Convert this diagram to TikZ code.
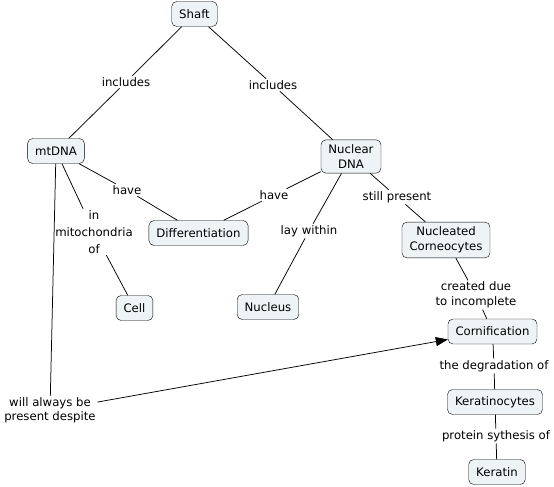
\documentclass[tikz,border=0pt]{standalone}
\usepackage{fontspec}
\setmainfont{DejaVu Sans}
\usetikzlibrary{arrows.meta}
\definecolor{boxfill}{HTML}{EEF4F6}
\tikzset{
  concept/.style={draw=black, fill=boxfill, rounded corners=5pt, align=center,
    inner xsep=7.5pt, inner ysep=5pt, minimum height=25pt, font=\fontsize{11.7}{14.5}\selectfont},
  linklabel/.style={align=center, inner sep=1.5pt, font=\fontsize{11.7}{14.5}\selectfont},
  conn/.style={draw=black, line width=0.75pt},
  arr/.style={conn, -{Triangle[length=12pt,width=9pt]}}
}
\begin{document}
\begin{tikzpicture}[x=1pt,y=-1pt]
\useasboundingbox (0,0) rectangle (554,487);
% concepts
\node[concept] (shaft) at (194.5,14) {Shaft};
\node[concept] (mtdna) at (56,151) {mtDNA};
\node[concept] (ndna) at (351,156.5) {Nuclear\\DNA};
\node[concept] (diff) at (198.5,233) {Differentiation};
\node[concept] (ncorn) at (446,240) {Nucleated\\Corneocytes};
\node[concept] (cell) at (134.5,308) {Cell};
\node[concept] (nucleus) at (268,307) {Nucleus};
\node[concept] (corn) at (492.5,331.5) {Cornification};
\node[concept] (kcytes) at (495,402) {Keratinocytes};
\node[concept] (keratin) at (497,472) {Keratin};
% link labels
\node[linklabel] (incl1) at (126,82) {includes};
\node[linklabel] (incl2) at (273,85) {includes};
\node[linklabel] (have1) at (127,190) {have};
\node[linklabel] (have2) at (274,195) {have};
\node[linklabel, font=\fontsize{11.7}{17}\selectfont] (inmito) at (94,232) {in\\mitochondria\\of};
\node[linklabel] (lay) at (309,231) {lay within};
\node[linklabel] (still) at (397,197) {still present};
\node[linklabel] (created) at (476,295) {created due\\to incomplete};
\node[linklabel] (degr) at (494,366) {the degradation of};
\node[linklabel] (prot) at (496,436) {protein sythesis of};
\node[linklabel] (will) at (50,410.5) {will always be\\present despite};
% connectors
\draw[conn] (shaft) -- (incl1) (incl1) -- (mtdna);
\draw[conn] (shaft) -- (incl2) (incl2) -- (ndna);
\draw[conn] (mtdna) -- (have1) (have1) -- (diff);
\draw[conn] (ndna) -- (have2) (have2) -- (diff);
\draw[conn] (mtdna) -- (inmito) (inmito) -- (cell);
\draw[conn] (ndna) -- (lay) (lay) -- (nucleus);
\draw[conn] (ndna) -- (still) (still) -- (ncorn);
\draw[conn] (ncorn) -- (created) (created) -- (corn);
\draw[conn] (mtdna) -- (will);
\draw[arr] (will) -- (corn);
\draw[conn] (corn) -- (degr) (degr) -- (kcytes);
\draw[conn] (kcytes) -- (prot) (prot) -- (keratin);
\end{tikzpicture}
\end{document}
